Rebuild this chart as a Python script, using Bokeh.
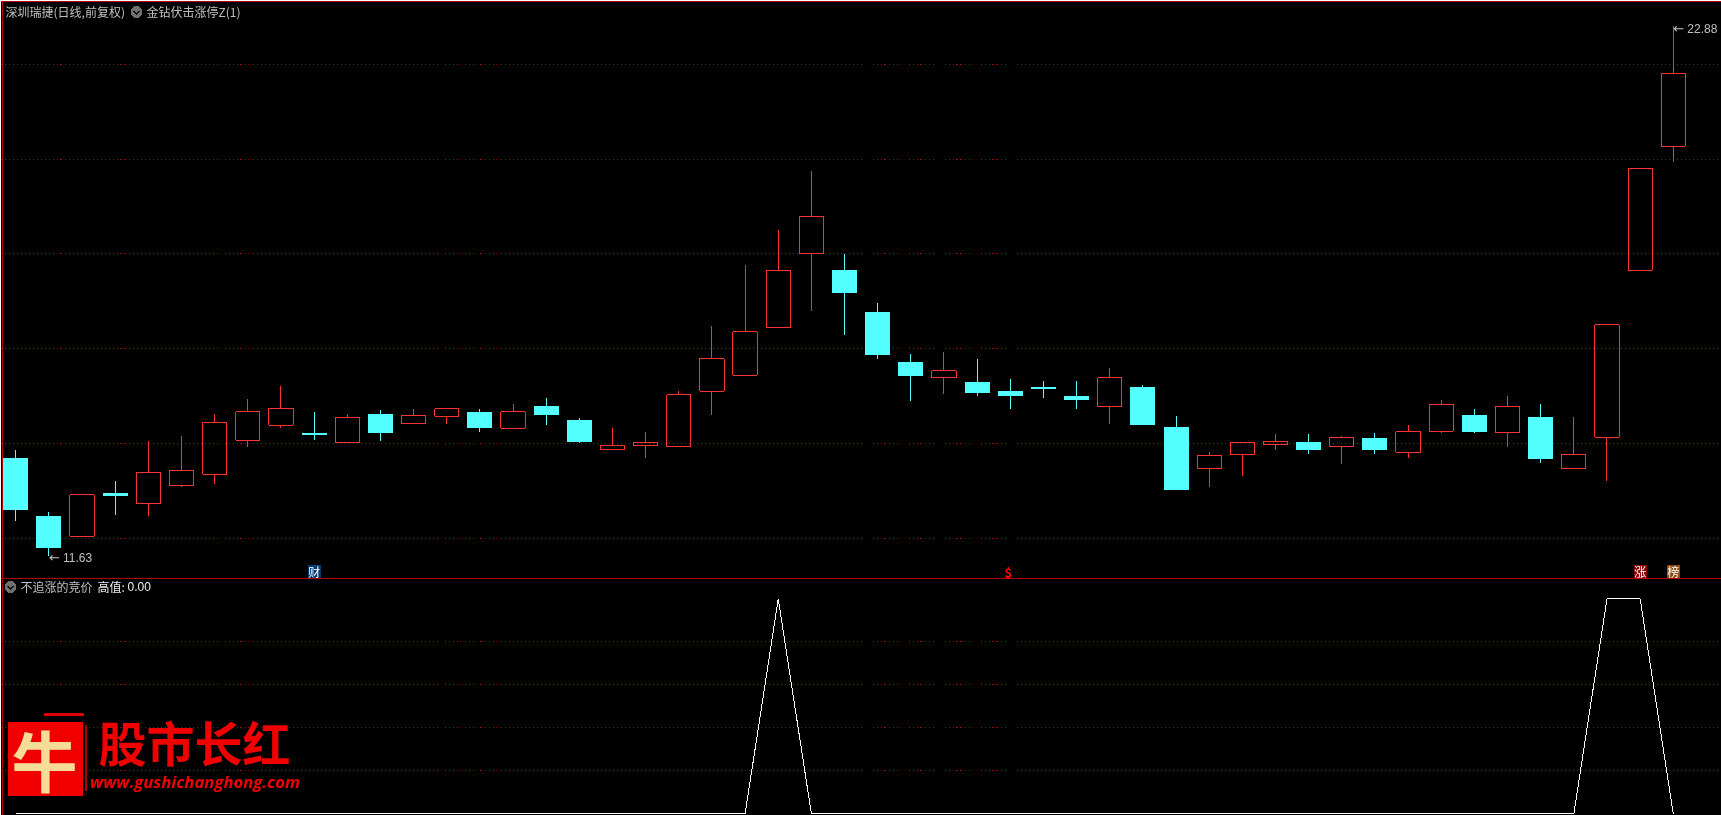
from bokeh.embed import file_html
from bokeh.resources import INLINE
from bokeh.plotting import figure
from bokeh.models import Range1d, Grid, FixedTicker
from bokeh.core.properties import value

# ---- data ----
opens  = [13.71,12.46,12.04,12.95,12.73,13.12,13.36,14.08,14.40,14.24,14.03,14.64,14.44,14.59,14.67,14.33,14.81,14.50,13.89,13.97,
          13.95,15.12,15.46,16.46,18.03,17.70,16.79,15.73,15.41,15.32,15.13,15.20,15.01,14.80,15.20,14.35,13.48,13.78,13.99,14.05,
          13.95,14.13,13.82,14.27,14.62,14.25,14.58,13.48,14.14,17.69,20.32]
highs  = [13.88,12.56,12.92,13.22,14.07,14.16,14.64,14.95,15.22,14.67,14.64,14.71,14.75,14.74,14.75,14.84,14.98,14.54,14.33,14.26,
          15.13,16.51,17.79,18.53,19.80,18.02,16.98,15.90,15.94,15.81,15.37,15.34,15.34,15.60,15.24,14.60,13.82,14.02,14.20,14.20,
          14.16,14.22,14.39,14.94,14.75,15.01,14.84,14.58,16.53,19.84,22.88]
lows   = [12.37,11.63,12.04,12.50,12.46,13.09,13.14,13.93,14.33,14.09,14.03,14.07,14.44,14.43,14.26,14.33,14.41,14.01,13.89,13.69,
          13.95,14.62,15.43,16.46,16.81,16.32,15.81,14.90,15.05,15.01,14.75,14.98,14.75,14.43,14.39,13.01,13.09,13.31,13.86,13.79,
          13.58,13.79,13.71,14.24,14.22,13.94,13.60,13.48,13.22,17.67,19.98]
closes = [12.59,11.79,12.92,12.90,13.39,13.43,14.45,14.68,14.76,14.18,14.57,14.22,14.60,14.74,14.33,14.68,14.62,14.05,13.96,14.02,
          15.04,15.81,16.38,17.69,18.82,17.21,15.88,15.45,15.55,15.09,15.01,15.17,14.94,15.40,14.41,13.03,13.75,14.02,14.04,13.86,
          14.13,13.86,14.26,14.83,14.26,14.79,13.67,13.77,16.53,19.84,21.86]
indicator = [0]*23 + [1] + [0]*24 + [1, 1, 0]
price_grid = [11.99, 14.00, 16.02, 18.03, 20.03, 22.05]
indicator_grid = [0.2, 0.4, 0.6, 0.8]
price_notes = [(1, 11.63, "11.63"), (50, 22.88, "22.88")]
event_tags = [(9, "财", "#003a70"), (49, "涨", "#8a0008"), (50, "榜", "#8a4a10")]
dollar_tag = (30, "$")

RED, CYAN = "#ff3232", "#54ffff"
GRID = "#a00000"
FRAME = "#b80000"
GREY = "#c0c0c0"
CJK = "Noto Sans CJK SC"

idx = list(range(len(opens)))
p = figure(width=1721, height=815, output_backend="svg", toolbar_location=None,
           x_range=Range1d(-0.4615, 51.454), y_range=Range1d(6.1115, 23.4107),
           background_fill_color="black", border_fill_color="black",
           min_border=0, outline_line_color=None,
           styles={"position": "fixed", "left": "0px", "top": "0px", "shape-rendering": "crispEdges"})
p.axis.visible = False
p.grid.visible = False
p.extra_y_ranges = {"ind": Range1d(-0.0079, 3.783), "py": Range1d(815, 0)}
p.extra_x_ranges = {"px": Range1d(0, 1721)}

for ticks, rng in ((price_grid, "default"), (indicator_grid, "ind")):
    g = Grid(dimension=1, ticker=FixedTicker(ticks=ticks), y_range_name=rng,
             grid_line_color=GRID, grid_line_width=1, grid_line_dash="1 3")
    p.add_layout(g)

# candles
up = [i for i in idx if closes[i] >= opens[i]]
dn = [i for i in idx if closes[i] < opens[i]]
# upper and lower wicks stop at the hollow body
p.segment([i for i in up], [highs[i] for i in up], [i for i in up], [closes[i] for i in up], line_color=RED, line_width=1)
p.segment([i for i in up], [opens[i] for i in up], [i for i in up], [lows[i] for i in up], line_color=RED, line_width=1)
p.quad(left=[i - 0.365 for i in up], right=[i + 0.365 for i in up],
       top=[closes[i] for i in up], bottom=[opens[i] for i in up],
       fill_color=None, line_color=RED, line_width=1)
p.segment(dn, [highs[i] for i in dn], dn, [lows[i] for i in dn], line_color=CYAN, line_width=1)
p.quad(left=[i - 0.377 for i in dn], right=[i + 0.377 for i in dn],
       top=[opens[i] for i in dn], bottom=[closes[i] for i in dn],
       fill_color=CYAN, line_color=None)

# indicator
p.line(idx, indicator, y_range_name="ind", line_color="white", line_width=1)

def txt(x, y, s, color=GREY, size=12, font=CJK, style="normal", align="left", range_y="py", x_off=0, y_off=0, x_range="px"):
    p.text([x], [y], text=[s], text_color=color, text_font=value(font), text_font_size=f"{size}px",
           text_font_style=style, text_align=align, text_baseline="middle",
           x_range_name=x_range, y_range_name=range_y, x_offset=x_off, y_offset=y_off)

# frame lines
p.line([0, 1721], [1, 1], x_range_name="px", y_range_name="py", line_color=FRAME, line_width=1)
p.line([1.5, 1.5], [0, 815], x_range_name="px", y_range_name="py", line_color=FRAME, line_width=1)
p.line([0, 1721], [578, 578], x_range_name="px", y_range_name="py", line_color=FRAME, line_width=1)

# price notes
for i, v, s in price_notes:
    dy = 2 if v < 15 else 3
    txt(i, v, "←", range_y="default", x_range="default", x_off=0, y_off=dy, font="DejaVu Sans", size=13)
    txt(i, v, s, range_y="default", x_range="default", x_off=14, y_off=dy, font="Liberation Sans")

# tags
for i, s, c in event_tags:
    p.rect([i], [570.5], width=13, height=13, width_units="screen", height_units="screen",
           fill_color=c, line_color=None, y_range_name="py")
    txt(i, 570.5, s, color="white", size=12, align="center", x_range="default")
txt(dollar_tag[0], 571.5, dollar_tag[1], color="#ff0000", size=13, style="bold", align="center", x_range="default", x_off=-2)

# headers
for cx, cy in ((136, 11.5), (10, 586.5)):
    p.scatter([cx], [cy], size=12, marker="circle", fill_color="#707070", line_color=None,
              x_range_name="px", y_range_name="py")
    p.line([cx - 3, cx, cx + 3], [cy - 1, cy + 2, cy - 1], x_range_name="px", y_range_name="py",
           line_color="#101010", line_width=1.5)
txt(5, 10.5, "深圳瑞捷(日线,前复权)")
txt(146, 10.5, "金钻伏击涨停Z(1)")
txt(20, 586, "不追涨的竞价")
txt(97, 586, "高值:", color="#f0f0f0")
txt(127, 586, "0.00", color="#f0f0f0", font="Liberation Sans")

# watermark logo
p.quad(left=[7], right=[82], top=[721], bottom=[795], fill_color="#f20000", line_color=None,
       x_range_name="px", y_range_name="py")
p.quad(left=[43], right=[83], top=[712], bottom=[715], fill_color="#e00000", line_color=None,
       x_range_name="px", y_range_name="py")
p.quad(left=[84], right=[86], top=[724], bottom=[790], fill_color="#b00000", line_color=None,
       x_range_name="px", y_range_name="py")
txt(44, 757, "牛", color="#f6dc96", size=66, style="bold", align="center")
txt(98, 740, "股市长红", color="#f00000", size=48, style="bold")
txt(89.5, 780.5, "www.gushichanghong.com", color="#f00000", size=16.7, font="Open Sans", style="bold italic")

open("out.html", "w").write(file_html(p, INLINE))
